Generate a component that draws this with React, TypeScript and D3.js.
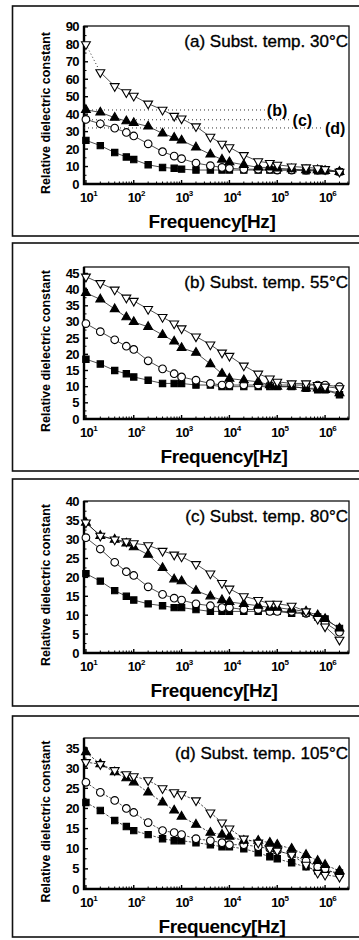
import { useEffect, useRef } from "react";
import * as d3 from "d3";

// measurement frequencies (Hz), shared by every panel
const FREQ = [10, 20, 40, 70, 100, 200, 400, 700, 1e3, 2e3, 4e3, 7e3, 1e4, 2e4, 4e4, 7e4, 1e5, 2e5, 4e5, 7e5, 1e6, 2e6];
const DECADES = [1, 2, 3, 4, 5, 6];

// (a) 30 C
const A_TRI_OPEN = [80, 64, 56, 52.5, 50.5, 46, 42.5, 39, 37.5, 33, 27, 23, 21, 16.5, 13, 12, 11, 10, 9.5, 9, 8.5, 7];
const A_TRI_FILL = [42.5, 41, 38, 36, 35, 33, 29, 26.5, 25, 21, 17, 14, 12.5, 11, 9.5, 9.5, 9, 8.5, 8, 8, 7.5, 7];
const A_CIRCLE = [37, 34.5, 32, 29.5, 27.5, 23, 18.5, 16, 14.5, 12, 10.5, 9.5, 9, 8.5, 8.5, 8.5, 8, 8, 8, 8, 8, 7];
const A_SQUARE = [25, 22, 18, 15.5, 14, 11, 9.5, 9, 8.5, 8, 8, 8, 8, 8, 8, 8, 8, 8, 7.5, 7.5, 7.5, 7];
// reference levels drawn in (a): value, end frequency, label
const A_REF_VALUES = [42.4, 36.8, 32.1];
const A_REF_ENDS = [5.5e4, 1.9e5, 9e5];
const A_REF_LABELS = ["(b)", "(c)", "(d)"];

// (b) 55 C
const B_TRI_OPEN = [44, 42, 40, 37.5, 36.5, 34, 31.5, 29.5, 28, 25.5, 23, 20.5, 19.5, 16.5, 14, 12.5, 11.5, 11, 11, 10.5, 10, 9.5];
const B_TRI_FILL = [39, 37, 34, 31.5, 30, 28.5, 26, 24, 22, 20.5, 17, 14, 12.5, 12, 11.5, 10.5, 10, 10, 9.5, 9.5, 9, 8];
const B_CIRCLE = [29.5, 27, 24.5, 22.5, 21.5, 18, 15.5, 14, 13, 12, 11, 10.5, 10.5, 10.5, 10.5, 10.5, 10.5, 10.5, 10.5, 10.5, 10.5, 10];
const B_SQUARE = [18.5, 17, 15, 14, 13, 12, 11, 11, 11, 10.5, 10.5, 10, 10, 10, 10, 10, 10, 10, 9.5, 9, 9, 7.5];

// (c) 80 C
const C_TRI_OPEN = [34.5, 31, 30, 29.5, 29, 28.5, 27, 26, 25.5, 23.5, 21, 18.5, 17, 15, 14, 13, 13, 12.5, 11, 9, 7, 3.5];
const C_TRI_FILL = [34.5, 31, 30, 29, 28, 26, 22.5, 19.5, 19, 16.5, 15, 14, 13.5, 13, 12.5, 12, 12, 11.5, 11, 10, 9, 6.5];
const C_CIRCLE = [30.5, 27.5, 24, 21.5, 20.5, 17.5, 15.5, 14.5, 14, 13, 12.5, 12, 12, 11.5, 11.5, 11, 11, 11, 10.5, 9.5, 8, 5.5];
const C_SQUARE = [21, 19, 16.5, 15, 14, 13, 12.5, 12, 12, 11.5, 11, 11, 11, 11, 11, 11, 11, 10.5, 10.5, 9.5, 9, 6.5];

// (d) 105 C
const D_TRI_OPEN = [31.5, 31, 29.5, 28.5, 28, 27, 25, 24, 23.5, 22, 19, 16.5, 15, 12.5, 11.5, 10, 9.5, 8.5, 6, 4, 3.5, 3];
const D_TRI_FILL = [34, 31, 29, 27.5, 26.5, 24, 21.5, 19.5, 18, 16, 14, 13.5, 13, 12, 12, 11.5, 11, 10, 8.5, 7, 6, 4.5];
const D_CIRCLE = [26.5, 24, 22, 20, 19, 16.5, 14.5, 14, 13.5, 12.5, 12, 11.5, 11, 11, 10.5, 10, 9.5, 8.5, 7, 5.5, 5, 3.5];
const D_SQUARE = [21.5, 19.5, 17, 15.5, 14.5, 13.5, 12.5, 12, 12, 11.5, 11, 10.5, 10.5, 10, 9, 8, 7.5, 6.5, 5.5, 4.5, 4.5, 4];

const TITLES = ["(a) Subst. temp. 30°C", "(b) Subst. temp. 55°C", "(c) Subst. temp. 80°C", "(d) Subst. temp. 105°C"];
const Y_TICKS = [d3.range(0, 91, 10), d3.range(0, 46, 5), d3.range(0, 41, 5), d3.range(0, 36, 5)];

const PANELS = [
  { title: TITLES[0], ticks: Y_TICKS[0], yTop: 90.5, series: { triOpen: A_TRI_OPEN, triFill: A_TRI_FILL, circle: A_CIRCLE, square: A_SQUARE } },
  { title: TITLES[1], ticks: Y_TICKS[1], yTop: 47, series: { triOpen: B_TRI_OPEN, triFill: B_TRI_FILL, circle: B_CIRCLE, square: B_SQUARE } },
  { title: TITLES[2], ticks: Y_TICKS[2], yTop: 40.2, series: { triOpen: C_TRI_OPEN, triFill: C_TRI_FILL, circle: C_CIRCLE, square: C_SQUARE } },
  { title: TITLES[3], ticks: Y_TICKS[3], yTop: 37.5, series: { triOpen: D_TRI_OPEN, triFill: D_TRI_FILL, circle: D_CIRCLE, square: D_SQUARE } },
];

// page geometry (pixels)
const W = 359;
const H = 940;
const BOX_TOP = [6, 243, 479, 716];
const BOX_BOTTOM = [236, 471, 706, 937];
const PLOT_TOP = [26, 267, 501, 738];
const PLOT_BOTTOM = [184, 419, 653, 889];
const XLABEL_X = [212, 224, 214, 222];
const PLOT_LEFT = 84;
const PLOT_RIGHT = 349;
const FONT = "'Liberation Sans', Arial, Helvetica, sans-serif";

export default function App() {
  const ref = useRef<SVGSVGElement>(null);

  useEffect(() => {
    if (!ref.current) return;
    const svg = d3.select(ref.current);
    svg.selectAll("*").remove();
    svg.append("rect").attr("width", W).attr("height", H).attr("fill", "#fff");

    const x = d3.scaleLog().domain([10 ** 0.96, 10 ** 6.5]).range([PLOT_LEFT, PLOT_RIGHT]);

    PANELS.forEach((p, i) => {
      const g = svg.append("g");
      const top = PLOT_TOP[i];
      const bottom = PLOT_BOTTOM[i];
      const y = d3.scaleLinear().domain([0, p.yTop]).range([bottom, top]);

      // outer frame (runs off the right edge of the page)
      g.append("rect")
        .attr("x", 12.5)
        .attr("y", BOX_TOP[i])
        .attr("width", 360)
        .attr("height", BOX_BOTTOM[i] - BOX_TOP[i])
        .attr("fill", "none")
        .attr("stroke", "#111")
        .attr("stroke-width", 1.6);

      // plot frame
      g.append("rect")
        .attr("x", PLOT_LEFT)
        .attr("y", top)
        .attr("width", PLOT_RIGHT - PLOT_LEFT)
        .attr("height", bottom - top)
        .attr("fill", "none")
        .attr("stroke", "#111")
        .attr("stroke-width", 1.3);
      g.append("path")
        .attr("d", `M${PLOT_LEFT},${top}V${bottom}H${PLOT_RIGHT}`)
        .attr("fill", "none")
        .attr("stroke", "#000")
        .attr("stroke-width", 2.4);

      // y ticks (major + half-step minor, inward)
      const step = p.ticks[1] - p.ticks[0];
      p.ticks.forEach((t) => {
        g.append("line")
          .attr("x1", PLOT_LEFT).attr("x2", PLOT_LEFT + 4)
          .attr("y1", y(t)).attr("y2", y(t))
          .attr("stroke", "#000").attr("stroke-width", 1.4);
        if (t + step / 2 < p.yTop) {
          g.append("line")
            .attr("x1", PLOT_LEFT).attr("x2", PLOT_LEFT + 2.5)
            .attr("y1", y(t + step / 2)).attr("y2", y(t + step / 2))
            .attr("stroke", "#000").attr("stroke-width", 1);
        }
        g.append("text")
          .attr("x", PLOT_LEFT - 5)
          .attr("y", y(t) + 4.5)
          .attr("text-anchor", "end")
          .attr("font-family", FONT)
          .attr("font-weight", "bold")
          .attr("font-size", 13)
          .attr("letter-spacing", -0.6)
          .text(t);
      });

      // x ticks: decades + minor
      DECADES.forEach((d) => {
        const base = 10 ** d;
        g.append("line")
          .attr("x1", x(base)).attr("x2", x(base))
          .attr("y1", bottom).attr("y2", bottom - 4)
          .attr("stroke", "#000").attr("stroke-width", 1.4);
        d3.range(2, 10).forEach((m) => {
          const f = base * m;
          if (f > 10 ** 6.5) return;
          g.append("line")
            .attr("x1", x(f)).attr("x2", x(f))
            .attr("y1", bottom).attr("y2", bottom - 2.5)
            .attr("stroke", "#000").attr("stroke-width", 1);
        });
        const lab = g.append("text")
          .attr("x", x(base) - 6)
          .attr("y", bottom + 18)
          .attr("font-family", FONT)
          .attr("font-weight", "bold")
          .attr("font-size", 13)
          .attr("letter-spacing", -0.6);
        lab.append("tspan").text("10");
        lab.append("tspan").attr("dy", -6).attr("font-size", 8).text(d);
      });

      // connecting lines (dashed in panel d; first step of (a) open triangles dotted)
      const dashed = i === 3 ? "2.5,1.5" : null;
      const line = d3.line<number>().x((_, k) => x(FREQ[k])).y((v) => y(v));
      const lineFrom1 = d3.line<number>().x((_, k) => x(FREQ[k + 1])).y((v) => y(v));
      const s = p.series;
      [s.square, s.circle, s.triFill, s.triOpen].forEach((vals, k) => {
        const firstDotted = i === 0 && k === 3;
        g.append("path")
          .datum(firstDotted ? vals.slice(1) : vals)
          .attr("d", firstDotted ? lineFrom1 : line)
          .attr("fill", "none")
          .attr("stroke", "#222")
          .attr("stroke-width", 0.8)
          .attr("stroke-dasharray", dashed);
        if (firstDotted) {
          g.append("path")
            .datum(vals.slice(0, 2))
            .attr("d", line)
            .attr("fill", "none")
            .attr("stroke", "#333")
            .attr("stroke-width", 1)
            .attr("stroke-dasharray", "1,2.5");
        }
      });

      // reference levels in (a)
      if (i === 0) {
        A_REF_VALUES.forEach((v, k) => {
          g.append("line")
            .attr("x1", PLOT_LEFT).attr("x2", x(A_REF_ENDS[k]))
            .attr("y1", y(v)).attr("y2", y(v))
            .attr("stroke", "#333")
            .attr("stroke-width", 1)
            .attr("stroke-dasharray", "1,3");
          g.append("text")
            .attr("x", x(A_REF_ENDS[k]) + 2)
            .attr("y", y(v) + 6)
            .attr("font-family", FONT)
            .attr("font-weight", "bold")
            .attr("font-size", 16)
            .text(A_REF_LABELS[k]);
        });
      }

      // markers
      const sq = d3.symbol().type(d3.symbolSquare).size(40)();
      const ci = d3.symbol().type(d3.symbolCircle).size(46)();
      const tr = d3.symbol().type(d3.symbolTriangle).size(34)();
      const mark = (vals: number[], path: string | null, fill: string, rot: number) => {
        g.append("g")
          .selectAll("path")
          .data(vals)
          .join("path")
          .attr("d", path)
          .attr("transform", (v, k) => `translate(${x(FREQ[k])},${y(v)}) rotate(${rot})`)
          .attr("fill", fill)
          .attr("stroke", "#000")
          .attr("stroke-width", 1.1);
      };
      mark(s.square, sq, "#000", 0);
      mark(s.circle, ci, "#fff", 0);
      mark(s.triFill, tr, "#000", 0);
      mark(s.triOpen, tr, "#fff", 180);

      // title
      g.append("text")
        .attr("x", PLOT_RIGHT - 1)
        .attr("y", top + 21)
        .attr("text-anchor", "end")
        .attr("font-family", FONT)
        .attr("font-size", 17)
        .attr("stroke", "#000")
        .attr("stroke-width", 0.35)
        .text(p.title);

      // axis titles
      g.append("text")
        .attr("transform", `translate(50,${(top + bottom) / 2 + 8}) rotate(-90)`)
        .attr("text-anchor", "middle")
        .attr("font-family", FONT)
        .attr("font-weight", "bold")
        .attr("font-size", 12.5)
        .text("Relative dielectric constant");
      g.append("text")
        .attr("x", XLABEL_X[i])
        .attr("y", bottom + 44)
        .attr("text-anchor", "middle")
        .attr("font-family", FONT)
        .attr("font-weight", "bold")
        .attr("font-size", 19)
        .attr("letter-spacing", -0.4)
        .text("Frequency[Hz]");
    });
  }, []);

  return (
    <svg
      ref={ref}
      width={W}
      height={H}
      viewBox={`0 0 ${W} ${H}`}
      style={{ position: "absolute", left: 0, top: 0, display: "block" }}
    />
  );
}
